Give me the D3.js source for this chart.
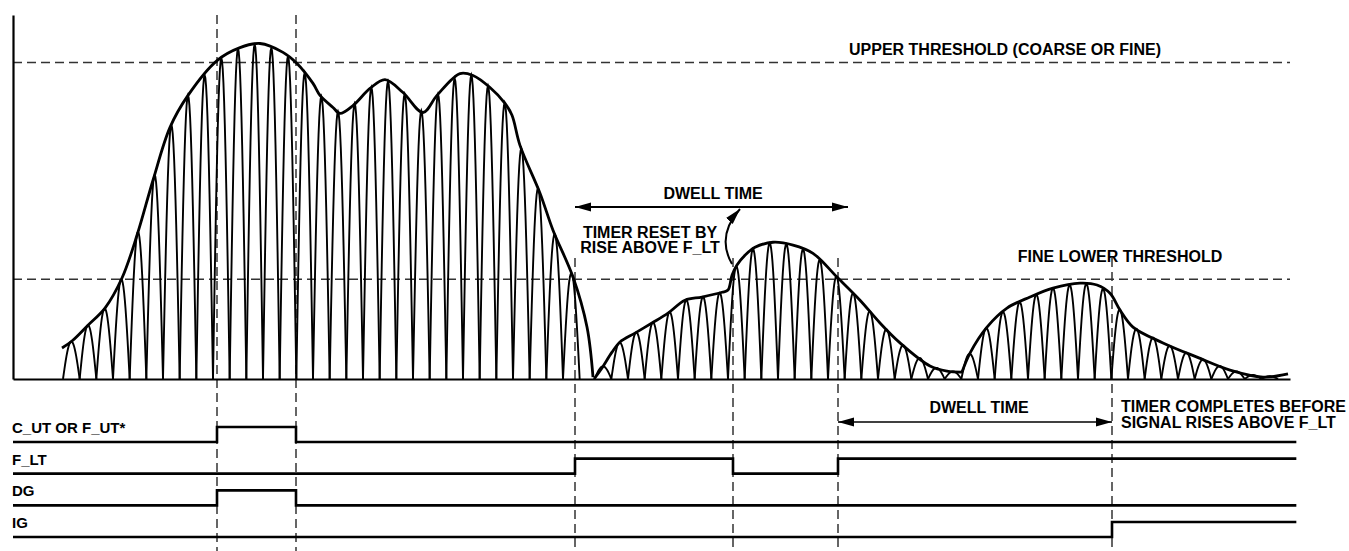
<!doctype html>
<html>
<head>
<style>
  body { margin: 0; background: #fff; }
  text { font-family: "Liberation Sans", Arial, Helvetica, sans-serif; font-weight: bold; fill: #000; }
  .env { fill: none; stroke: #000; stroke-width: 2.8; }
  .arch { fill: none; stroke: #000; stroke-width: 1.9; }
  .guide { stroke: #333; stroke-width: 1.5; stroke-dasharray: 9,5; }
  .sig { fill: none; stroke: #000; stroke-width: 2.6; }
</style>
<script src="https://d3js.org/d3.v7.min.js"></script>
</head>
<body>
<svg width="1349" height="551"></svg>
<script>

// envelope of each burst, [time, amplitude] (upper threshold = 1)
var burst1 = [[2.94,0.098],[3.54,0.12],[4.5,0.17],[5.52,0.224],[6.54,0.319],[7.44,0.454],[8.4,0.628],
    [9.42,0.795],[10.5,0.896],[12.24,1.006],[13.62,1.047],[14.82,1.06],[16.2,1.032],[17.04,0.997],
    [18.0,0.934],[18.42,0.896],[19.2,0.858],[19.62,0.839],[20.4,0.864],[21.42,0.918],[22.32,0.946],
    [23.4,0.905],[24.6,0.842],[25.44,0.896],[26.82,0.965],[27.6,0.959],[28.62,0.921],[29.52,0.871],
    [29.94,0.833],[30.42,0.738],[31.62,0.587],[32.4,0.47],[33.6,0.322],[34.44,0.164],[34.8,0.006]];
var burst2 = [[34.86,0],[35.34,0.035],[35.94,0.085],[36.42,0.117],[37.32,0.145],[38.34,0.177],
    [39.3,0.208],[40.32,0.249],[41.34,0.259],[42.54,0.274],[42.9,0.281],[43.14,0.328],[43.44,0.36],
    [43.92,0.391],[44.52,0.416],[45.6,0.432],[46.8,0.423],[48.0,0.397],[49.44,0.322],[50.82,0.249],
    [52.02,0.177],[53.22,0.114],[55.02,0.041],[56.04,0.025],[56.94,0.022]];
var burst3 = [[56.94,0.022],[57.42,0.082],[58.44,0.164],[59.64,0.224],[61.02,0.259],[62.4,0.287],
    [64.02,0.303],[65.04,0.297],[65.82,0.271],[66.42,0.218],[67.2,0.164],[69.0,0.114],[71.04,0.069],
    [73.02,0.028],[75.0,0.006],[76.5,0.016]];
var carrierStart = [3, 34.9, 56.9],
    carrierEnd = [34, 56.9, 75.9];

var upperThreshold = 1.0,
    lowerThreshold = 0.315;

// digital outputs, [time, level] step points
var signalNames = ["C_UT OR F_UT*", "F_LT", "DG", "IG"];
var cutSteps = [[0,0],[12.24,1],[16.98,0],[77,0]],
    fltSteps = [[0,0],[33.72,1],[43.2,0],[49.5,1],[77,1]],
    dgSteps  = [[0,0],[12.24,1],[16.98,0],[77,0]],
    igSteps  = [[0,0],[65.94,1],[77,1]];

var fullMarkers = [12.24, 16.98],
    lowMarkers = [33.72, 43.2, 49.5, 65.94];
var dwellSpans = [[33.72, 50.1], [49.5, 65.94]];

var svg = d3.select("svg");

var x = d3.scaleLinear().domain([0, 76.62]).range([13, 1290]),
    y = d3.scaleLinear().domain([0, 1.15]).range([379, 15]),
    row = d3.scalePoint().domain(signalNames).range([442, 537]);

// arrow heads
svg.append("defs").append("marker")
   .attr("id", "head")
   .attr("markerUnits", "userSpaceOnUse")
   .attr("viewBox", "0 -5 16 10")
   .attr("refX", 16).attr("refY", 0)
   .attr("markerWidth", 16).attr("markerHeight", 10)
   .attr("orient", "auto-start-reverse")
   .append("path").attr("d", "M0,-4.5L16,0L0,4.5Z").attr("fill", "#000");

// threshold lines
svg.selectAll(".thr")
   .data([upperThreshold, lowerThreshold])
   .enter().append("line")
   .attr("class", "guide")
   .attr("x1", x(0)).attr("x2", x.range()[1])
   .attr("y1", function(d) { return y(d); })
   .attr("y2", function(d) { return y(d); });

// vertical guides
svg.selectAll(".vfull")
   .data(fullMarkers)
   .enter().append("line")
   .attr("class", "guide")
   .attr("x1", function(d) { return x(d); }).attr("x2", function(d) { return x(d); })
   .attr("y1", 15).attr("y2", 551);
svg.selectAll(".vlow")
   .data(lowMarkers)
   .enter().append("line")
   .attr("class", "guide")
   .attr("x1", function(d) { return x(d); }).attr("x2", function(d) { return x(d); })
   .attr("y1", 258).attr("y2", 549);

// carrier arches under the envelopes
var archLine = d3.line().x(function(d) { return x(d[0]); }).y(function(d) { return y(d[1]); });
[burst1, burst2, burst3].forEach(function(b, i) {
    var env = d3.scaleLinear()
        .domain(b.map(function(d) { return d[0]; }))
        .range(b.map(function(d) { return d[1]; }))
        .clamp(true);
    var n = Math.round(carrierEnd[i] - carrierStart[i]);
    for (var k = 0; k < n; k++) {
        var t0 = carrierStart[i] + k,
            peak = env(t0 + 0.5);
        var pts = d3.range(0, 25).map(function(j) {
            var u = j / 24;
            return [t0 + u, peak * Math.sin(Math.PI * u)];
        });
        svg.append("path").attr("class", "arch").attr("d", archLine(pts));
    }
});

// envelopes
var envLine = d3.line()
    .x(function(d) { return x(d[0]); })
    .y(function(d) { return y(d[1]); })
    .curve(d3.curveCatmullRom);
svg.selectAll(".env")
   .data([burst1, burst2, burst3])
   .enter().append("path")
   .attr("class", "env")
   .attr("d", envLine);

// axes
var yAxis = svg.append("g")
   .attr("transform", "translate(" + x(0) + ",0)")
   .call(d3.axisLeft(y).tickValues([]).tickSizeOuter(0));
var xAxis = svg.append("g")
   .attr("transform", "translate(0," + y(0) + ")")
   .call(d3.axisBottom(x).tickValues([]).tickSizeOuter(0));
svg.selectAll(".domain").attr("stroke", "#000").attr("stroke-width", 2.2);

// digital traces
var stepLine = d3.line().curve(d3.curveStepAfter);
[cutSteps, fltSteps, dgSteps, igSteps].forEach(function(s, i) {
    var base = row(signalNames[i]);
    svg.append("path")
       .attr("class", "sig")
       .attr("d", stepLine(s.map(function(d) { return [x(d[0]), base - d[1] * 15]; })));
    svg.append("text")
       .attr("x", 12)
       .attr("y", base - 9)
       .style("font-size", "15px")
       .text(signalNames[i]);
});

// dwell arrows
svg.append("line")
   .attr("x1", x(dwellSpans[0][0])).attr("x2", x(dwellSpans[0][1]))
   .attr("y1", 207).attr("y2", 207)
   .attr("stroke", "#000").attr("stroke-width", 2)
   .attr("marker-start", "url(#head)").attr("marker-end", "url(#head)");
svg.append("line")
   .attr("x1", x(dwellSpans[1][0])).attr("x2", x(dwellSpans[1][1]))
   .attr("y1", 422).attr("y2", 422)
   .attr("stroke", "#000").attr("stroke-width", 1.6)
   .attr("marker-start", "url(#head)").attr("marker-end", "url(#head)");

// curved arrow: timer reset
svg.append("path")
   .attr("d", "M732,264Q716,236,740,209")
   .attr("fill", "none").attr("stroke", "#000").attr("stroke-width", 2)
   .attr("marker-end", "url(#head)");

// annotations
function note(tx, ty, anchor, str) {
    svg.append("text")
       .attr("x", tx).attr("y", ty)
       .attr("text-anchor", anchor)
       .style("font-size", "16px")
       .text(str);
}
note(1005, 55, "middle", "UPPER THRESHOLD (COARSE OR FINE)");
note(713, 199, "middle", "DWELL TIME");
note(650, 238, "middle", "TIMER RESET BY");
note(650, 253, "middle", "RISE ABOVE F_LT");
note(1120, 262, "middle", "FINE LOWER THRESHOLD");
note(979, 413, "middle", "DWELL TIME");
note(1121, 412, "start", "TIMER COMPLETES BEFORE");
note(1121, 428, "start", "SIGNAL RISES ABOVE F_LT");

</script>
</body>
</html>
